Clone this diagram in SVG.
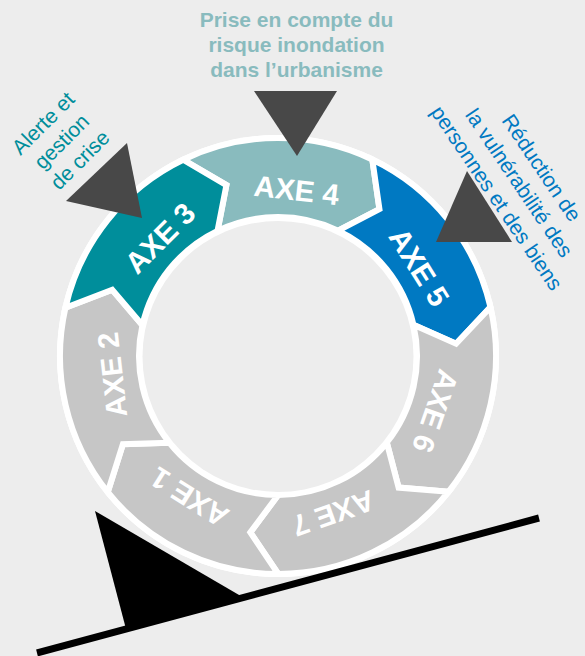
<svg xmlns="http://www.w3.org/2000/svg" xmlns:xlink="http://www.w3.org/1999/xlink" width="585" height="656" viewBox="0 0 585 656">
<style>
.seg{stroke:#fff;stroke-width:6;stroke-linejoin:miter}
.ax{font-family:'Liberation Sans',Arial,sans-serif;font-weight:bold;font-size:29.5px;fill:#fff;text-anchor:middle}
.lbl{font-family:'Liberation Sans',Arial,sans-serif;font-size:21px;text-anchor:middle}
.top{font-family:'Liberation Sans',Arial,sans-serif;font-weight:bold;font-size:21px;text-anchor:middle;fill:#89bbbe}
.ptr{fill:#484848}
</style>
<defs>
<path id="chev" d="M0,-218 A218,218 0 0 1 170.44,-135.92 L155.25,-88.09 L108.67,-86.67 A139,139 0 0 0 0,-139 L27.92,-176.3 Z"/>
</defs>
<rect width="585" height="656" fill="#ededed"/>
<circle cx="278" cy="356" r="221" fill="#fff"/>
<g id="axe4" transform="translate(278,356) rotate(-25.8)">
<use xlink:href="#chev" class="seg" fill="#89bbbe"/>
<text class="ax" transform="rotate(32.2)" x="0" y="-156.5">AXE 4</text>
</g>
<g id="axe5" transform="translate(278,356) rotate(25.63)">
<use xlink:href="#chev" class="seg" fill="#0079c2"/>
<text class="ax" transform="rotate(32.2)" x="0" y="-156.5">AXE 5</text>
</g>
<g id="axe6" transform="translate(278,356) rotate(77.06)">
<use xlink:href="#chev" class="seg" fill="#c6c6c6"/>
<text class="ax" transform="rotate(32.2)" x="0" y="-156.5">AXE 6</text>
</g>
<g id="axe7" transform="translate(278,356) rotate(128.49)">
<use xlink:href="#chev" class="seg" fill="#c6c6c6"/>
<text class="ax" transform="rotate(32.2)" x="0" y="-156.5">AXE 7</text>
</g>
<g id="axe1" transform="translate(278,356) rotate(179.92)">
<use xlink:href="#chev" class="seg" fill="#c6c6c6"/>
<text class="ax" transform="rotate(32.2)" x="0" y="-156.5">AXE 1</text>
</g>
<g id="axe2" transform="translate(278,356) rotate(231.35)">
<use xlink:href="#chev" class="seg" fill="#c6c6c6"/>
<text class="ax" transform="rotate(32.2)" x="0" y="-156.5">AXE 2</text>
</g>
<g id="axe3" transform="translate(278,356) rotate(282.78)">
<use xlink:href="#chev" class="seg" fill="#008e9b"/>
<text class="ax" transform="rotate(32.2)" x="0" y="-156.5">AXE 3</text>
</g>
<circle cx="278" cy="356.5" r="135.5" fill="#ededed"/>
<g id="label-urbanisme">
<text class="top" x="296.5" y="27">Prise en compte du</text>
<text class="top" x="296.5" y="52">risque inondation</text>
<text class="top" x="296.5" y="77">dans l’urbanisme</text>
</g>
<g id="label-alerte" transform="translate(61.7,141.7) rotate(-45)">
<text class="lbl" fill="#008e9b" x="0" y="-19">Alerte et</text>
<text class="lbl" fill="#008e9b" x="0" y="7">gestion</text>
<text class="lbl" fill="#008e9b" x="0" y="33">de crise</text>
</g>
<g id="label-reduction" transform="translate(519,183) rotate(56)">
<text class="lbl" fill="#0079c2" x="0" y="-20">Réduction de</text>
<text class="lbl" fill="#0079c2" x="0" y="7">la vulnérabilité des</text>
<text class="lbl" fill="#0079c2" x="0" y="34">personnes et des biens</text>
</g>
<g id="connectors">
<polygon class="ptr" points="254,91 337,91 297,156"/>
<polygon class="ptr" points="66,201 127,143 142,218"/>
<polygon class="ptr" points="467,171 436,242 512,242"/>
<polygon fill="#000" points="95,511 126,629 242.5,597"/>
<line x1="37" y1="653" x2="539" y2="518" stroke="#000" stroke-width="7"/>
</g>
</svg>
